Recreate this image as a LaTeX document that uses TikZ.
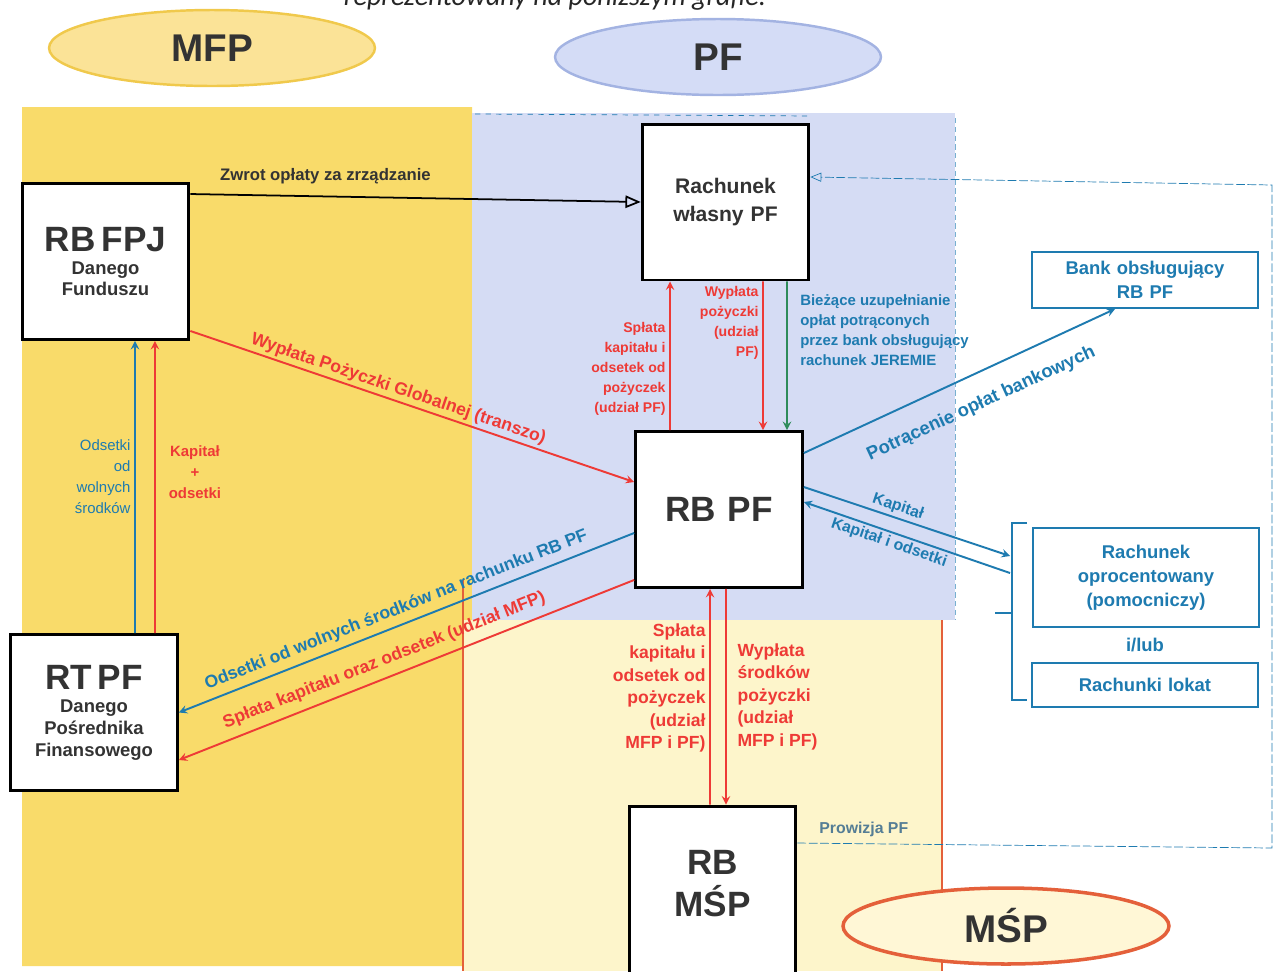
\documentclass[tikz,border=0pt]{standalone}
\usepackage{fontspec}
\setmainfont{Liberation Sans}
\newfontfamily\introfont{Carlito}
\usetikzlibrary{shapes.geometric, arrows}

\definecolor{mfpyellow}{HTML}{F9DB6A}
\definecolor{mfpfill}{HTML}{FBE397}
\definecolor{mfpedge}{HTML}{F0C94C}
\definecolor{pfblue}{HTML}{D5DCF4}
\definecolor{pffill}{HTML}{D4DCF6}
\definecolor{pfedge}{HTML}{A3B3E2}
\definecolor{mspcream}{HTML}{FDF5CB}
\definecolor{mspfill}{HTML}{FFF7D6}
\definecolor{mspedge}{HTML}{E4603A}
\definecolor{lnred}{HTML}{EE3A36}
\definecolor{lnblue}{HTML}{1E7BB0}
\definecolor{lngreen}{HTML}{2E8B5A}
\definecolor{txtgray}{HTML}{333333}

\tikzstyle{account} = [rectangle, draw=black, line width=1.7pt, fill=white, minimum width=3.24cm, minimum height=3.12cm, text centered, text width=3.1cm, text=txtgray, font=\bfseries]
\tikzstyle{bank-account} = [rectangle, draw=lnblue, line width=1.1pt, fill=white, minimum width=4.44cm, text centered, text width=4.3cm, text=lnblue, font=\bfseries\fontsize{10.5}{13.5}\selectfont]
\tikzstyle{side} = [ellipse, minimum width=6.52cm, minimum height=1.52cm, line width=1.4pt, text=txtgray, font=\bfseries\fontsize{22}{26}\selectfont]
\tikzstyle{arrow} = [thick,->,>=stealth]
\tikzstyle{red-arrow} = [arrow, draw=lnred, line width=1.1pt]
\tikzstyle{blue-arrow} = [arrow, draw=lnblue, line width=1.1pt]
\tikzstyle{green-arrow} = [arrow, draw=lngreen, line width=1.1pt]
\tikzstyle{red-label} = [text=lnred, font=\bfseries\fontsize{8}{11.4}\selectfont, align=right, inner sep=2pt]
\tikzstyle{blue-label} = [text=lnblue, font=\bfseries\fontsize{8.5}{11.4}\selectfont, align=left, inner sep=2pt]
\tikzstyle{flow-label} = [font=\bfseries\fontsize{10}{12}\selectfont, inner sep=1.5pt]

\begin{document}
\begin{tikzpicture}[x=0.02cm, y=-0.02cm]

\useasboundingbox (0,0) rectangle (1274,971);

% Obszary MFP / PF / MSP
\fill [mfpyellow] (22,107) -- (472,107) -- (472,620) -- (463,620) -- (463,966) -- (22,966) -- cycle;
\fill [pfblue] (472,113) rectangle (955,620);
\fill [mspcream] (463,620) rectangle (942,971);
\draw [lnblue, thin, dashed] (475,114) -- (812,116);
\draw [lnblue!60, thin, densely dashed] (955,118) -- (955,620);
\draw [mspedge, line width=1pt] (463,580) -- (463,971);
\draw [mspedge, line width=1.2pt] (942,620) -- (942,971);

\node (intro) [anchor=base, text=black!85, font=\introfont\itshape\fontsize{16}{18}\selectfont] at (555,5) {reprezentowany na poniższym grafie.};

\node (mfp) [side, fill=mfpfill, draw=mfpedge] at (212,48) {MFP};
\node (pf) [side, fill=pffill, draw=pfedge] at (718,57) {PF};
\node (msp) [side, fill=mspfill, draw=mspedge, line width=2pt] at (1006,926) {MŚP};

% Rachunki
\node (rwpf) [account, font=\bfseries\fontsize{12}{16}\selectfont] at (725.5,202) {Rachunek\\własny PF};
\node (rbfpj) [account] at (105.5,261.5) {\fontsize{20}{27}\selectfont RB FPJ\par\fontsize{10.5}{13}\selectfont Danego\\Funduszu};
\node (rbpf) [account, font=\bfseries\fontsize{20}{24}\selectfont] at (719,509.5) {RB PF};
\node (rtpf) [account] at (94,712.5) {\fontsize{20}{27}\selectfont RT PF\par\fontsize{10.5}{13}\selectfont Danego\\Pośrednika\\Finansowego};
\node (rbmsp) [account, minimum height=3.4cm, font=\bfseries\fontsize{20}{24}\selectfont] at (712.5,891) {RB\\MŚP\par\vspace{0.3cm}};

\node (bank) [bank-account, minimum height=1.12cm] at (1145,280) {Bank obsługujący\\RB PF};
\node (oproc) [bank-account, minimum height=1.98cm] at (1146,577.5) {Rachunek\\oprocentowany\\(pomocniczy)};
\node (ilub) [text=lnblue, font=\bfseries\fontsize{10.5}{12}\selectfont] at (1145,645) {i/lub};
\node (lokat) [bank-account, minimum height=0.88cm] at (1145,685) {Rachunki lokat};

% klamra
\coordinate (klamra-in) at (1010,556);
\coordinate (klamra-out) at (1010,573);
\draw [lnblue, line width=1.1pt] (1027,523) -- (1012,523) -- (1012,700) -- (1027,700);
\draw [lnblue, line width=1.1pt] (995,613) -- (1012,613);

% MFP -> PF
\draw [arrow, >=open triangle 45, line width=1pt, draw=black] ([yshift=-0.24cm]rbfpj.north east) -- (rwpf.west) node[pos=0.3, above=5pt, flow-label, text=txtgray, font=\bfseries\fontsize{9.5}{11}\selectfont] {Zwrot opłaty za zrządzanie};
\draw [red-arrow] ([yshift=0.2cm]rbfpj.south east) -- ([yshift=0.55cm]rbpf.west) node[pos=0.46, above, sloped, flow-label, text=lnred] {Wypłata Pożyczki Globalnej (transzo)};

% RB PF <-> Rachunek wlasny
\draw [red-arrow] ([xshift=-0.98cm]rbpf.north) -- ([xshift=-1.11cm]rwpf.south) node[pos=0.41, left, red-label] {Spłata\\kapitału i\\odsetek od\\pożyczek\\(udział PF)};
\draw [red-arrow] ([xshift=0.75cm]rwpf.south) -- ([xshift=0.88cm]rbpf.north) node[pos=0.28, left, red-label] {Wypłata\\pożyczki\\(udział\\PF)};
\draw [green-arrow] ([xshift=1.23cm]rwpf.south) -- ([xshift=1.36cm]rbpf.north) node[pos=0.33, right=5pt, blue-label] {Bieżące uzupełnianie\\opłat potrąconych\\przez bank obsługujący\\rachunek JEREMIE};

% RB PF -> bank
\draw [blue-arrow] ([yshift=-0.46cm]rbpf.north east) -- ([xshift=-0.6cm]bank.south) node[pos=0.53, below=10pt, sloped, flow-label, text=lnblue, font=\bfseries\fontsize{10.5}{12}\selectfont] {Potrącenie opłat bankowych};
\draw [blue-arrow] ([yshift=0.45cm]rbpf.east) -- (klamra-in) node[pos=0.44, above, sloped, flow-label, text=lnblue, font=\bfseries\fontsize{9}{11}\selectfont] {Kapitał};
\draw [blue-arrow, <-] ([yshift=0.15cm]rbpf.east) -- (klamra-out) node[pos=0.43, below, sloped, flow-label, text=lnblue, font=\bfseries\fontsize{9}{11}\selectfont] {Kapitał i odsetki};

% RB PF -> RT PF
\draw [blue-arrow, <-] (rtpf.east) -- ([yshift=-0.47cm]rbpf.west) node[pos=0.49, above=2pt, sloped, flow-label, text=lnblue] {Odsetki od wolnych środków na rachunku RB PF};
\draw [red-arrow, <-] ([yshift=-0.95cm]rtpf.east) -- ([yshift=0.18cm]rbpf.south west) node[pos=0.465, above=3pt, sloped, flow-label, text=lnred] {Spłata kapitału oraz odsetek (udział MFP)};

% RT PF -> RB FPJ
\draw [blue-arrow] ([xshift=0.82cm]rtpf.north) -- ([xshift=0.59cm]rbfpj.south) node[pos=0.535, left, text=lnblue, font=\fontsize{8.5}{12}\selectfont, align=right, inner sep=2pt] {Odsetki\\od\\wolnych\\środków};
\draw [red-arrow] ([xshift=1.22cm]rtpf.north) -- ([xshift=0.99cm]rbfpj.south) node[pos=0.55, right=4pt, text=lnred, font=\bfseries\fontsize{8.5}{12}\selectfont, align=center] {Kapitał\\+\\odsetki};

% RB PF <-> RB MSP
\draw [red-arrow] ([xshift=-0.05cm]rbmsp.north) -- ([xshift=-0.18cm]rbpf.south) node[pos=0.54, left, red-label, font=\bfseries\fontsize{10}{12.8}\selectfont] {Spłata\\kapitału i\\odsetek od\\pożyczek\\(udział\\MFP i PF)};
\draw [red-arrow] ([xshift=0.14cm]rbpf.south) -- ([xshift=0.27cm]rbmsp.north) node[pos=0.5, right=4pt, red-label, align=left, font=\bfseries\fontsize{10}{12.8}\selectfont] {Wypłata\\środków\\pożyczki\\(udział\\MFP i PF)};

% Prowizja PF
\coordinate (prow-bottom) at (1272,848);
\coordinate (prow-top) at (1272,185);
\draw [lnblue, thin, dash pattern=on 5pt off 1.5pt, ->, >=open triangle 45] ([yshift=0.96cm]rbmsp.east) -- (prow-bottom) node[pos=0.14, above=2pt, flow-label, text=lnblue!45!gray, font=\bfseries\fontsize{9}{11}\selectfont] {Prowizja PF} -- (prow-top) -- ([yshift=0.5cm]rwpf.east);

\end{tikzpicture}
\end{document}
